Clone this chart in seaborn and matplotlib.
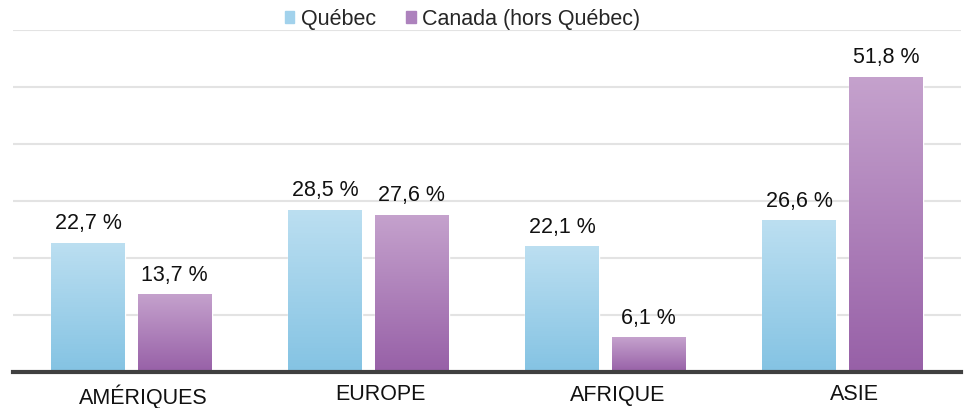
import numpy as np
import pandas as pd
import matplotlib
matplotlib.use("Agg")
import matplotlib.pyplot as plt
import matplotlib.transforms as mtransforms
import seaborn as sns
from matplotlib.colors import LinearSegmentedColormap
from matplotlib.patches import Patch

# --- données ---
regions = ["AMÉRIQUES", "EUROPE", "AFRIQUE", "ASIE"]
quebec = [22.7, 28.5, 22.1, 26.6]
canada_hq = [13.7, 27.6, 6.1, 51.8]
series = ["Québec", "Canada (hors Québec)"]

df = pd.DataFrame({
    "region": regions * 2,
    "valeur": quebec + canada_hq,
    "serie": [series[0]] * 4 + [series[1]] * 4,
})

sns.set_style("white")
plt.rcParams['font.family'] = ['Liberation Sans', 'DejaVu Sans']

# couleurs (haut, bas) du dégradé
grad = {
    series[0]: ("#bcdff1", "#84c3e3"),
    series[1]: ("#c5a2cd", "#9760a7"),
}
palette = {s: grad[s][1] for s in series}
legend_cols = {series[0]: "#a2d2ec", series[1]: "#ad82bd"}

fig = plt.figure(figsize=(9.65, 4.08), dpi=100)
ax = fig.add_axes([13 / 965, 36 / 408, 948 / 965, 342 / 408])

sns.barplot(data=df, x="region", y="valeur", hue="serie", hue_order=series,
            palette=palette, width=0.73, gap=0.15, ax=ax, legend=False,
            edgecolor="white", linewidth=1)

# dégradé dans chaque barre
for cont, s in zip(ax.containers, series):
    cmap = LinearSegmentedColormap.from_list(s, [grad[s][1], grad[s][0]])
    for bar in cont:
        x0, y0 = bar.get_x(), bar.get_y()
        w, h = bar.get_width(), bar.get_height()
        img = ax.imshow(np.linspace(0, 1, 256).reshape(-1, 1), cmap=cmap,
                        extent=(x0, x0 + w, y0, y0 + h), origin="lower",
                        aspect="auto", zorder=bar.get_zorder() + 0.1)
        img.set_clip_path(bar)
    ax.bar_label(cont, labels=[f"{b.get_height():.1f} %".replace(".", ",") for b in cont],
                 padding=6, fontsize=15.5, color="#111111")

ax.set_aspect("auto")
ax.set_xlim(-0.5, 3.5)
ax.set_ylim(0, 60)

# grille et axes
ax.set_yticks(np.arange(0, 61, 10))
ax.yaxis.grid(True, color="#e3e3e3", linewidth=1.5)
ax.set_axisbelow(True)
ax.tick_params(axis="y", left=False, labelleft=False)
ax.tick_params(axis="x", length=0, pad=9, labelsize=15.5, labelcolor="#111111")
for sp in ["top", "right", "left"]:
    ax.spines[sp].set_visible(False)
ax.spines["bottom"].set_color("#404040")
ax.spines["bottom"].set_linewidth(3)
ax.set_xlabel("")
ax.set_ylabel("")

# étiquettes de catégories légèrement décalées à droite
shift = mtransforms.ScaledTranslation(12 / 100, 0, fig.dpi_scale_trans)
for lab in ax.get_xticklabels():
    lab.set_transform(lab.get_transform() + shift)

handles = [Patch(color=legend_cols[s], label=s) for s in series]
ax.legend(handles=handles, loc="lower center", bbox_to_anchor=(0.474, 0.975),
          ncol=2, frameon=False, fontsize=15.5, handlelength=0.45,
          handleheight=0.45, handletextpad=0.3, columnspacing=1.4,
          borderaxespad=0)

fig.savefig("out.png", dpi=100)
